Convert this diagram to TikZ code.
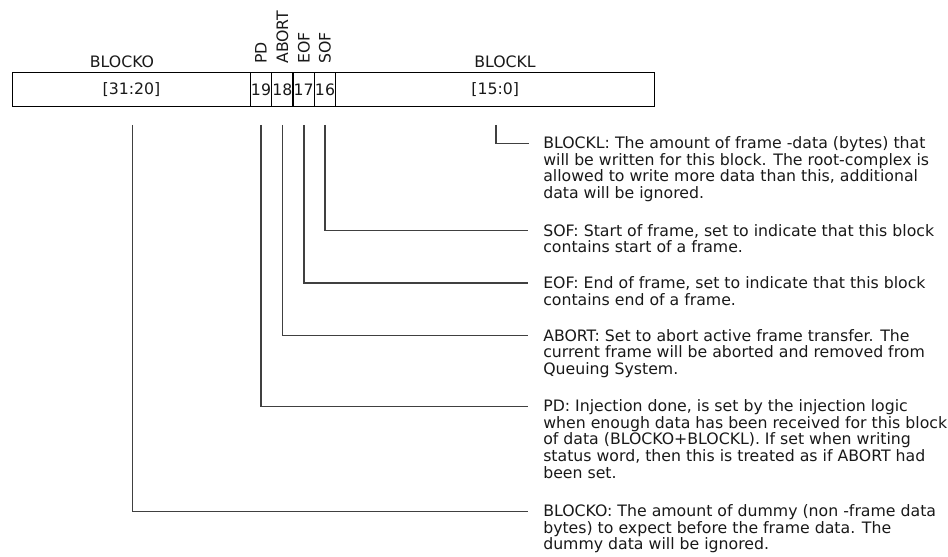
\documentclass[tikz,border=0pt]{standalone}
\usepackage{fontspec}
\setmainfont{DejaVu Sans}
\tikzset{
  every node/.style={font=\fontsize{11.8}{12.5}\selectfont, text=black!90},
  cell/.style={draw=black, line width=0.75pt, inner sep=0pt, minimum height=34.3*0.75pt},
  bitlabel/.style={rotate=90, anchor=west, inner sep=0pt},
  desc/.style={anchor=north west, inner sep=0pt, align=left},
  conn/.style={draw=black!75, line width=0.8pt},
}
\begin{document}
\begin{tikzpicture}[x=0.75pt, y=-0.75pt]
\useasboundingbox (0,0) rectangle (948,556);
% field cells
\node[cell, minimum width=237.6*0.75pt] (fblocko) at (131.5,89.85) {[31:20]};
\node[cell, minimum width=21.35*0.75pt] (fpd) at (261,89.85) {19};
\node[cell, minimum width=21.35*0.75pt] (fabort) at (282.35,89.85) {18};
\node[cell, minimum width=21.35*0.75pt] (feof) at (303.65,89.85) {17};
\node[cell, minimum width=21.35*0.75pt] (fsof) at (325,89.85) {16};
\node[cell, minimum width=319*0.75pt] (fblockl) at (495.2,89.85) {[15:0]};
% field names
\node[anchor=base, inner sep=0pt] (nblocko) at (122,68) {BLOCKO};
\node[anchor=base, inner sep=0pt] (nblockl) at (505,68) {BLOCKL};
\node[bitlabel] (npd) at (261,64) {PD};
\node[bitlabel] (nabort) at (282.5,64) {ABORT};
\node[bitlabel] (neof) at (303.8,64) {EOF};
\node[bitlabel] (nsof) at (325,64) {SOF};
% descriptions
\node[desc] (dblockl) at (543,136.3) {BLOCKL: The amount of frame -data (bytes) that\\will be written for this block. The root-complex is\\allowed to write more data than this, additional\\data will be ignored.};
\node[desc] (dsof) at (543,223.8) {SOF: Start of frame, set to indicate that this block\\contains start of a frame.};
\node[desc] (deof) at (543,276.3) {EOF: End of frame, set to indicate that this block\\contains end of a frame.};
\node[desc] (dabort) at (543,328.8) {ABORT: Set to abort active frame transfer. The\\current frame will be aborted and removed from\\Queuing System.};
\node[desc] (dpd) at (543,399.3) {PD: Injection done, is set by the injection logic\\when enough data has been received for this block\\of data (BLOCKO+BLOCKL). If set when writing\\status word, then this is treated as if ABORT had\\been set.};
\node[desc] (dblocko) at (543,504.3) {BLOCKO: The amount of dummy (non -frame data\\bytes) to expect before the frame data. The\\dummy data will be ignored.};
% connector ends
\coordinate (sblockl) at (496,125);
\coordinate (ssof) at (325,125);
\coordinate (seof) at (304,125);
\coordinate (sabort) at (282.7,125);
\coordinate (spd) at (261,125);
\coordinate (sblocko) at (132.7,125);
\coordinate (eblockl) at (529,143.3);
\coordinate (esof) at (528,230.7);
\coordinate (eeof) at (528,283);
\coordinate (eabort) at (528,335.7);
\coordinate (epd) at (528,406.3);
\coordinate (eblocko) at (528,511.3);
% connectors
\draw[conn] (sblockl) |- (eblockl);
\draw[conn] (ssof) |- (esof);
\draw[conn] (seof) |- (eeof);
\draw[conn] (sabort) |- (eabort);
\draw[conn] (spd) |- (epd);
\draw[conn] (sblocko) |- (eblocko);
\end{tikzpicture}
\end{document}
